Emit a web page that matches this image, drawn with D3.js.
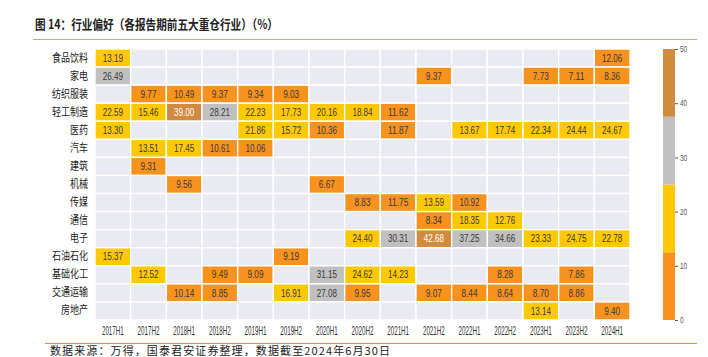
<!DOCTYPE html>
<html><head><meta charset="utf-8">
<script src="https://cdn.jsdelivr.net/npm/d3@7"></script>
<style>
body{margin:0;background:#fff;}
svg{display:block;}
</style></head>
<body>
<svg id="chart" width="708" height="357"></svg>
<script>
const periods = ["2017H1","2017H2","2018H1","2018H2","2019H1","2019H2","2020H1","2020H2","2021H1","2021H2","2022H1","2022H2","2023H1","2023H2","2024H1"];
const industries = ["食品饮料","家电","纺织服装","轻工制造","医药","汽车","建筑","机械","传媒","通信","电子","石油石化","基础化工","交通运输","房地产"];
const _ = null;
//                  17H1  17H2  18H1  18H2  19H1  19H2  20H1  20H2  21H1  21H2  22H1  22H2  23H1  23H2  24H1
const foodBeverage = [13.19,_,_,_,_,_,_,_,_,_,_,_,_,_,12.06];
const homeAppliance = [26.49,_,_,_,_,_,_,_,_,9.37,_,_,7.73,7.11,8.36];
const textileApparel = [_,9.77,10.49,9.37,9.34,9.03,_,_,_,_,_,_,_,_,_];
const lightIndustry = [22.59,15.46,39.00,28.21,22.23,17.73,20.16,18.84,11.62,_,_,_,_,_,_];
const pharma = [13.30,_,_,_,21.86,15.72,10.36,_,11.87,_,13.67,17.74,22.34,24.44,24.67];
const auto = [_,13.51,17.45,10.61,10.06,_,_,_,_,_,_,_,_,_,_];
const construction = [_,9.31,_,_,_,_,_,_,_,_,_,_,_,_,_];
const machinery = [_,_,9.56,_,_,_,6.67,_,_,_,_,_,_,_,_];
const media = [_,_,_,_,_,_,_,8.83,11.75,13.59,10.92,_,_,_,_];
const telecom = [_,_,_,_,_,_,_,_,_,8.34,18.35,12.76,_,_,_];
const electronics = [_,_,_,_,_,_,_,24.40,30.31,42.68,37.25,34.66,23.33,24.75,22.78];
const petrochem = [15.37,_,_,_,_,9.19,_,_,_,_,_,_,_,_,_];
const basicChem = [_,12.52,_,9.49,9.09,_,31.15,24.62,14.23,_,_,8.28,_,7.86,_];
const transport = [_,_,10.14,8.85,_,16.91,27.08,9.95,_,9.07,8.44,8.64,8.70,8.86,_];
const realEstate = [_,_,_,_,_,_,_,_,_,_,_,_,13.14,_,9.40];
const rowsData = [foodBeverage,homeAppliance,textileApparel,lightIndustry,pharma,auto,construction,machinery,media,telecom,electronics,petrochem,basicChem,transport,realEstate];
const colorTicks = [0,10,20,30,40,50];
const colorBreaks = [12.5,25,37.5];
const colorBands = ["#f7921e","#ffc805","#c0c0c0","#d08b3e"];

const svg = d3.select("#chart");
const cjk = "'Noto Sans CJK SC', sans-serif";
const latin = "'Liberation Sans', Arial, sans-serif";

const x = d3.scaleBand().domain(periods).range([95,630]);
const y = d3.scaleBand().domain(industries).range([49,320]);
const color = d3.scaleThreshold().domain(colorBreaks).range(colorBands);

// width of a condensed number label
const numLen = s => s.replace(".","").length*4.2 + 3.4;

// title
svg.append("text").attr("x",35).attr("y",29)
  .attr("font-family",cjk).attr("font-weight","bold").attr("font-size",13)
  .attr("fill","#222").attr("textLength",243).attr("lengthAdjust","spacingAndGlyphs")
  .text("图 14：行业偏好（各报告期前五大重仓行业）（%）");
svg.append("line").attr("x1",33).attr("x2",697).attr("y1",39.5).attr("y2",39.5)
  .attr("stroke","#d6a66c").attr("stroke-width",1.2);

// cells
const cells = [];
rowsData.forEach((row,i)=>row.forEach((v,j)=>cells.push({ind:industries[i],per:periods[j],v})));
svg.append("g").selectAll("rect").data(cells).join("rect")
  .attr("x",d=>x(d.per)).attr("y",d=>y(d.ind))
  .attr("width",x.bandwidth()).attr("height",y.bandwidth())
  .attr("fill",d=>d.v==null?"#eaeaf2":color(d.v))
  .attr("stroke","#fff").attr("stroke-width",1.4);

svg.append("g").selectAll("text").data(cells.filter(d=>d.v!=null)).join("text")
  .attr("x",d=>x(d.per)+x.bandwidth()/2-numLen(d.v.toFixed(2))/2)
  .attr("y",d=>y(d.ind)+y.bandwidth()/2+3.6)
  .attr("font-family",latin).attr("font-size",10.5)
  .attr("textLength",d=>numLen(d.v.toFixed(2))).attr("lengthAdjust","spacingAndGlyphs")
  .attr("fill",d=>d.v>=37.5?"#fff":"#3a3a3a")
  .text(d=>d.v.toFixed(2));

// axes
const yAxis = svg.append("g").attr("transform","translate(95,0)")
  .call(d3.axisLeft(y).tickSize(0).tickPadding(7));
yAxis.select(".domain").remove();
yAxis.selectAll("text").attr("font-family",cjk).attr("font-size",11).attr("fill","#222")
  .attr("textLength",function(){return this.textContent.length*9;}).attr("lengthAdjust","spacingAndGlyphs");

const xAxis = svg.append("g").attr("transform","translate(0,320)")
  .call(d3.axisBottom(x).tickSize(0).tickPadding(6));
xAxis.select(".domain").remove();
xAxis.selectAll("text").attr("font-family",latin).attr("font-size",12).attr("fill","#333")
  .attr("transform","scale(0.52,1)");

// colorbar
const cb = d3.scaleLinear().domain([0,50]).range([320,49]);
const bandEdges = [0,...colorBreaks,50];
svg.append("g").selectAll("rect").data(colorBands).join("rect")
  .attr("x",663).attr("width",12)
  .attr("y",(d,i)=>cb(bandEdges[i+1])).attr("height",(d,i)=>cb(bandEdges[i])-cb(bandEdges[i+1]))
  .attr("fill",d=>d);
const cAxis = svg.append("g").attr("transform","translate(675,0)")
  .call(d3.axisRight(cb).tickValues(colorTicks).tickSize(3).tickPadding(2));
cAxis.select(".domain").remove();
cAxis.selectAll("line").attr("stroke","#555");
cAxis.selectAll("text").attr("font-family",latin).attr("font-size",8.5)
  .attr("textLength",function(){return this.textContent.length*3.6;}).attr("lengthAdjust","spacingAndGlyphs").attr("fill","#555");

// footer
svg.append("line").attr("x1",45).attr("x2",697).attr("y1",343.5).attr("y2",343.5)
  .attr("stroke","#d9933e").attr("stroke-width",1.2);
svg.append("text").attr("x",50).attr("y",354.5)
  .attr("font-family",cjk).attr("font-size",11).attr("fill","#222")
  .attr("textLength",340).attr("lengthAdjust","spacing")
  .text("数据来源：万得，国泰君安证券整理，数据截至2024年6月30日");
</script>
</body></html>
